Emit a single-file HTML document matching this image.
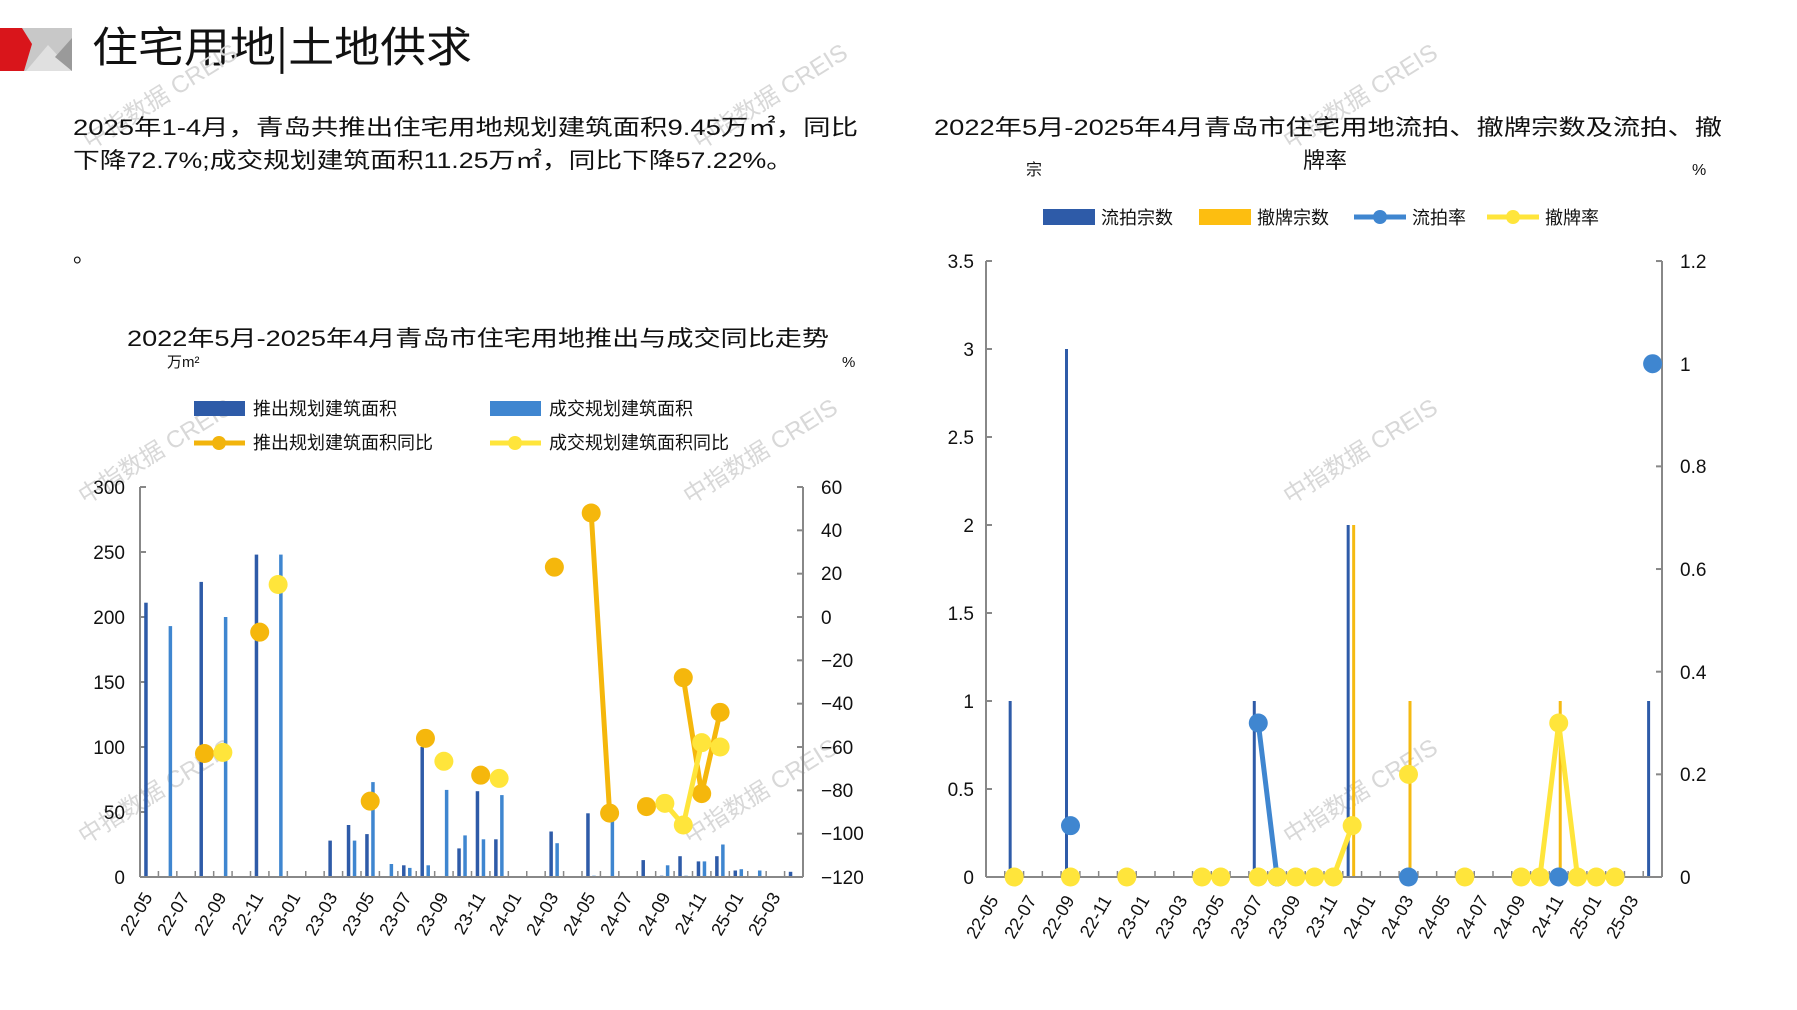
<!DOCTYPE html>
<html><head><meta charset="utf-8">
<style>
html,body{margin:0;padding:0;background:#fff;}
svg{display:block;font-family:"Liberation Sans","Noto Sans CJK SC",sans-serif;}
</style></head>
<body>
<svg id="s" width="1797" height="1010" viewBox="0 0 1797 1010" xmlns="http://www.w3.org/2000/svg">
<rect width="1797" height="1010" fill="#fff"/>
<!-- logo -->
<rect x="0" y="28" width="72" height="43" fill="#c8c8c8"/>
<polygon points="26,71 72,71 48,45" fill="#e0e0e0"/>
<polygon points="72,38 72,71 55,57" fill="#9a9a9a"/>
<polygon points="0,28 22,28 32,44 24,71 0,71" fill="#d9151b"/>
<text x="92" y="62" font-size="42" font-family="'Noto Sans CJK SC',sans-serif" fill="#111" textLength="380" lengthAdjust="spacingAndGlyphs">住宅用地|土地供求</text>

<!-- watermarks -->
<g fill="#d8d8d8" font-size="24" font-family="'Liberation Sans','Noto Sans CJK SC',sans-serif">
<text transform="translate(90,150) rotate(-32)">中指数据 CREIS</text>
<text transform="translate(700,150) rotate(-32)">中指数据 CREIS</text>
<text transform="translate(1290,150) rotate(-32)">中指数据 CREIS</text>
<text transform="translate(85,505) rotate(-32)">中指数据 CREIS</text>
<text transform="translate(690,505) rotate(-32)">中指数据 CREIS</text>
<text transform="translate(1290,505) rotate(-32)">中指数据 CREIS</text>
<text transform="translate(85,845) rotate(-32)">中指数据 CREIS</text>
<text transform="translate(690,845) rotate(-32)">中指数据 CREIS</text>
<text transform="translate(1290,845) rotate(-32)">中指数据 CREIS</text>
</g>

<!-- paragraph -->
<g font-size="22" fill="#111">
<text x="73" y="135" textLength="785" lengthAdjust="spacingAndGlyphs">2025年1-4月，青岛共推出住宅用地规划建筑面积9.45万㎡，同比</text>
<text x="73" y="168" textLength="720" lengthAdjust="spacingAndGlyphs">下降72.7%;成交规划建筑面积11.25万㎡，同比下降57.22%。</text>
<text x="73" y="262">。</text>
</g>

<!-- LEFT CHART -->
<text x="127" y="346" font-size="22" fill="#111" textLength="702" lengthAdjust="spacingAndGlyphs">2022年5月-2025年4月青岛市住宅用地推出与成交同比走势</text>
<text x="167" y="367" font-size="15" fill="#111">万m²</text>
<text x="842" y="367" font-size="15" fill="#111">%</text>
<g font-size="18" fill="#111">
<rect x="194" y="401" width="51" height="15" fill="#2E5BA8"/><text x="253" y="415">推出规划建筑面积</text>
<rect x="490" y="401" width="51" height="15" fill="#3F86D0"/><text x="549" y="415">成交规划建筑面积</text>
<line x1="194" y1="443" x2="245" y2="443" stroke="#F2B40C" stroke-width="5"/><circle cx="219" cy="443" r="7" fill="#F2B40C"/><text x="253" y="449">推出规划建筑面积同比</text>
<line x1="490" y1="443" x2="541" y2="443" stroke="#FFE53B" stroke-width="5"/><circle cx="515" cy="443" r="7" fill="#FFE53B"/><text x="549" y="449">成交规划建筑面积同比</text>
</g>
<g id="L"></g>
<g font-size="19" fill="#111" text-anchor="end">
<text x="125" y="884">0</text><text x="125" y="819">50</text><text x="125" y="754">100</text><text x="125" y="689">150</text><text x="125" y="624">200</text><text x="125" y="559">250</text><text x="125" y="494">300</text>
</g>
<g font-size="19" fill="#111">
<text x="821" y="494">60</text><text x="821" y="537">40</text><text x="821" y="580">20</text><text x="821" y="624">0</text><text x="821" y="667">−20</text><text x="821" y="710">−40</text><text x="821" y="754">−60</text><text x="821" y="797">−80</text><text x="821" y="840">−100</text><text x="821" y="884">−120</text>
</g>
<g font-size="18" fill="#111" text-anchor="end">
<text transform="translate(153,897) rotate(-60)">22-05</text>
<text transform="translate(190,897) rotate(-60)">22-07</text>
<text transform="translate(227,897) rotate(-60)">22-09</text>
<text transform="translate(264,897) rotate(-60)">22-11</text>
<text transform="translate(301,897) rotate(-60)">23-01</text>
<text transform="translate(338,897) rotate(-60)">23-03</text>
<text transform="translate(375,897) rotate(-60)">23-05</text>
<text transform="translate(412,897) rotate(-60)">23-07</text>
<text transform="translate(449,897) rotate(-60)">23-09</text>
<text transform="translate(486,897) rotate(-60)">23-11</text>
<text transform="translate(522,897) rotate(-60)">24-01</text>
<text transform="translate(559,897) rotate(-60)">24-03</text>
<text transform="translate(596,897) rotate(-60)">24-05</text>
<text transform="translate(633,897) rotate(-60)">24-07</text>
<text transform="translate(671,897) rotate(-60)">24-09</text>
<text transform="translate(707,897) rotate(-60)">24-11</text>
<text transform="translate(744,897) rotate(-60)">25-01</text>
<text transform="translate(781,897) rotate(-60)">25-03</text>
</g>

<!-- RIGHT CHART -->
<text x="934" y="135" font-size="22" fill="#111" textLength="788" lengthAdjust="spacingAndGlyphs">2022年5月-2025年4月青岛市住宅用地流拍、撤牌宗数及流拍、撤</text>
<text x="1303" y="168" font-size="22" fill="#111">牌率</text>
<text x="1026" y="175" font-size="16" fill="#111">宗</text>
<text x="1692" y="175" font-size="16" fill="#111">%</text>
<g font-size="18" fill="#111">
<rect x="1043" y="209" width="52" height="16" fill="#2E5BA8"/><text x="1101" y="224">流拍宗数</text>
<rect x="1199" y="209" width="52" height="16" fill="#FDBE10"/><text x="1257" y="224">撤牌宗数</text>
<line x1="1354" y1="217" x2="1406" y2="217" stroke="#3F86D0" stroke-width="5"/><circle cx="1380" cy="217" r="7" fill="#3F86D0"/><text x="1412" y="224">流拍率</text>
<line x1="1487" y1="217" x2="1539" y2="217" stroke="#FFE53B" stroke-width="5"/><circle cx="1513" cy="217" r="7" fill="#FFE53B"/><text x="1545" y="224">撤牌率</text>
</g>
<g id="R"></g>
<g font-size="19" fill="#111" text-anchor="end">
<text x="974" y="268">3.5</text><text x="974" y="356">3</text><text x="974" y="444">2.5</text><text x="974" y="532">2</text><text x="974" y="620">1.5</text><text x="974" y="708">1</text><text x="974" y="796">0.5</text><text x="974" y="884">0</text>
</g>
<g font-size="19" fill="#111">
<text x="1680" y="268">1.2</text><text x="1680" y="371">1</text><text x="1680" y="473">0.8</text><text x="1680" y="576">0.6</text><text x="1680" y="679">0.4</text><text x="1680" y="781">0.2</text><text x="1680" y="884">0</text>
</g>
<g font-size="18" fill="#111" text-anchor="end">
<text transform="translate(999,900) rotate(-60)">22-05</text>
<text transform="translate(1037,900) rotate(-60)">22-07</text>
<text transform="translate(1075,900) rotate(-60)">22-09</text>
<text transform="translate(1112,900) rotate(-60)">22-11</text>
<text transform="translate(1150,900) rotate(-60)">23-01</text>
<text transform="translate(1188,900) rotate(-60)">23-03</text>
<text transform="translate(1225,900) rotate(-60)">23-05</text>
<text transform="translate(1263,900) rotate(-60)">23-07</text>
<text transform="translate(1301,900) rotate(-60)">23-09</text>
<text transform="translate(1338,900) rotate(-60)">23-11</text>
<text transform="translate(1376,900) rotate(-60)">24-01</text>
<text transform="translate(1414,900) rotate(-60)">24-03</text>
<text transform="translate(1451,900) rotate(-60)">24-05</text>
<text transform="translate(1489,900) rotate(-60)">24-07</text>
<text transform="translate(1526,900) rotate(-60)">24-09</text>
<text transform="translate(1564,900) rotate(-60)">24-11</text>
<text transform="translate(1602,900) rotate(-60)">25-01</text>
<text transform="translate(1639,900) rotate(-60)">25-03</text>
</g>
</svg>
<script>
(function(){
var NS="http://www.w3.org/2000/svg";
function el(p,t,a){var e=document.createElementNS(NS,t);for(var k in a)e.setAttribute(k,a[k]);p.appendChild(e);return e;}
var L=document.getElementById("L");
var x0=140,x1=803,y0=877,yt=487,n=36,w=(x1-x0)/n;
function xl(i){return x0+w*(i+0.5);}
function yl(v){return y0-v*1.3;}
function yr(p){return y0-(p+120)*390/180;}
el(L,"line",{x1:x0,y1:yt,x2:x0,y2:y0,stroke:"#888","stroke-width":2});
el(L,"line",{x1:x1,y1:yt,x2:x1,y2:y0,stroke:"#888","stroke-width":2});
for(var k=0;k<=6;k++){el(L,"line",{x1:x0,x2:x0+6,y1:yl(k*50),y2:yl(k*50),stroke:"#888","stroke-width":2});}
for(var k=0;k<=9;k++){var y=yr(60-k*20);el(L,"line",{x1:x1-6,x2:x1,y1:y,y2:y,stroke:"#888","stroke-width":2});}
for(var i=1;i<n;i++){var x=x0+w*i;el(L,"line",{x1:x,x2:x,y1:y0-6,y2:y0,stroke:"#888","stroke-width":1.5});}
var D={0:211,3:227,6:248,10:28,11:40,12:33,14:9,15:100,17:22,18:66,19:29,22:35,24:49,27:13,28:1,29:16,30:12,31:16,32:5,35:4};
var Lb={1:193,4:200,7:248,11:28,12:73,13:10,14:7,15:9,16:67,17:32,18:29,19:63,22:26,24:1,25:47,28:9,29:1,30:12,31:25,32:6,33:5};
for(var i in D){el(L,"rect",{x:xl(+i)-5,y:yl(D[i]),width:3.5,height:D[i]*1.3,fill:"#2E5BA8"});}
for(var i in Lb){el(L,"rect",{x:xl(+i)+1,y:yl(Lb[i]),width:3.5,height:Lb[i]*1.3,fill:"#3F86D0"});}
el(L,"line",{x1:x0,y1:y0,x2:x1,y2:y0,stroke:"#888","stroke-width":2});
function series(g,data,col,yf,r){
 var keys=Object.keys(data).map(Number).sort(function(a,b){return a-b});
 for(var j=0;j<keys.length-1;j++){if(keys[j+1]==keys[j]+1){el(g,"line",{x1:g.xf(keys[j]),y1:yf(data[keys[j]]),x2:g.xf(keys[j+1]),y2:yf(data[keys[j+1]]),stroke:col,"stroke-width":5,"stroke-linecap":"round"});}}
 keys.forEach(function(k){el(g,"circle",{cx:g.xf(k),cy:yf(data[k]),r:r,fill:col});});
}
L.xf=xl;
series(L,{3:-63,6:-7,12:-85,15:-56,18:-73,22:23,24:48,25:-90.5,27:-87.5,29:-28,30:-81.5,31:-44},"#F5B70C",yr,9.5);
series(L,{4:-62.5,7:15,16:-66.6,19:-74.5,28:-86,29:-96,30:-58,31:-60},"#FFE53B",yr,9.5);
var R=document.getElementById("R");
var a0=986,a1=1662,ty=261,wr=(a1-a0)/n;
function xr(i){return a0+wr*(i+0.5);}
function yc(v){return y0-v*176;}
function yp(r){return y0-r*513.3;}
el(R,"line",{x1:a0,y1:ty,x2:a0,y2:y0,stroke:"#888","stroke-width":2});
el(R,"line",{x1:a1,y1:ty,x2:a1,y2:y0,stroke:"#888","stroke-width":2});
for(var k=0;k<=7;k++){el(R,"line",{x1:a0,x2:a0+6,y1:yc(k*0.5),y2:yc(k*0.5),stroke:"#888","stroke-width":2});}
for(var k=0;k<=6;k++){el(R,"line",{x1:a1-6,x2:a1,y1:yp(k*0.2),y2:yp(k*0.2),stroke:"#888","stroke-width":2});}
for(var i=1;i<n;i++){var x=a0+wr*i;el(R,"line",{x1:x,x2:x,y1:y0-6,y2:y0,stroke:"#888","stroke-width":1.5});}
var RD={1:1,4:3,14:1,19:2,35:1},RO={19:2,22:1,30:1};
for(var i in RD){el(R,"rect",{x:xr(+i)-5.5,y:yc(RD[i]),width:3,height:RD[i]*176,fill:"#2E5BA8"});}
for(var i in RO){el(R,"rect",{x:xr(+i)+0,y:yc(RO[i]),width:3,height:RO[i]*176,fill:"#F5BA12"});}
el(R,"line",{x1:a0,y1:y0,x2:a1,y2:y0,stroke:"#888","stroke-width":2});
R.xf=xr;
series(R,{4:0.1,14:0.3,15:0},"#3F86D0",yp,9.5);
series(R,{1:0,4:0,7:0,11:0,12:0,14:0,15:0,16:0,17:0,18:0,19:0.1,22:0.2,25:0,28:0,29:0,30:0.3,31:0,32:0,33:0},"#FFE53B",yp,9.5);
var B=el(R,"g",{});B.xf=xr;
series(B,{22:0,30:0,35:1},"#3F86D0",yp,9.5);
})();
</script>
</body></html>
